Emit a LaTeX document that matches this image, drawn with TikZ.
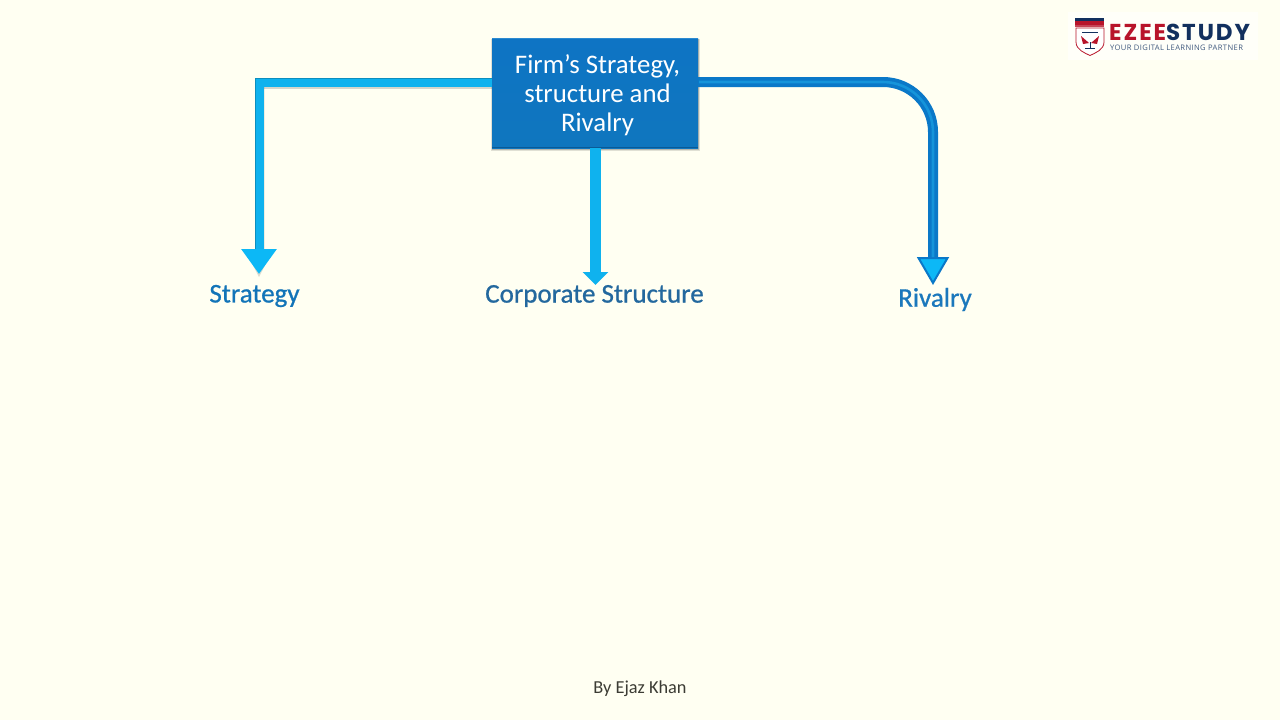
\documentclass[tikz,border=0pt]{standalone}
\usepackage{fontspec}
\setmainfont{Carlito}
\newfontfamily\labelfont[FakeBold=0.8]{Carlito}
\newfontfamily\logofont[LetterSpace=8.5]{Poppins}
\newfontfamily\tagfont[LetterSpace=5]{Open Sans}
\usetikzlibrary{arrows.meta,calc,shadows}
\definecolor{pagebg}{HTML}{FFFFF2}
\definecolor{boxtop}{HTML}{0E74C4}
\definecolor{boxbot}{HTML}{0F76BE}
\definecolor{boxedge}{HTML}{0A5A96}
\definecolor{boxlight}{HTML}{2C8AD0}
\definecolor{skyarrow}{HTML}{0FB2EE}
\definecolor{skyhead}{HTML}{0CB8F6}
\definecolor{deeparrow}{HTML}{0A78C8}
\definecolor{innerarrow}{HTML}{1594DA}
\definecolor{labelone}{HTML}{1274B8}
\definecolor{labeltwo}{HTML}{23689E}
\definecolor{labelthree}{HTML}{1B78BC}
\definecolor{footer}{HTML}{3C3C34}
\definecolor{logored}{HTML}{B8142A}
\definecolor{logonavy}{HTML}{12305E}
\tikzset{
  x=1pt,y=-1pt,
  mainbox/.style={rectangle,minimum width=206pt,minimum height=110pt,inner sep=0pt,outer sep=0pt,
    top color=boxtop,bottom color=boxbot},
  boxtext/.style={inner sep=0pt,text=white,font=\fontsize{26.8}{29}\selectfont,align=center},
  label/.style={inner sep=0pt,font=\labelfont\fontsize{27}{30}\selectfont},
  skyflow/.style={draw=skyarrow,line width=9pt},
  headone/.style={-{Triangle[width=34pt,length=25pt,fill=skyhead,color=skyhead]}},
  headtwo/.style={-{Triangle[width=25pt,length=13pt,fill=skyarrow,color=skyarrow]}},
  headthree/.style={-{Triangle[width=32pt,length=28pt,line width=2pt,fill=skyhead,color=deeparrow]}},
}
\begin{document}
\begin{tikzpicture}
\useasboundingbox (0,0) rectangle (1280,720);
\fill[pagebg] (0,0) rectangle (1280,720);
% logo
\fill[white,opacity=.55] (1068,12) rectangle (1258,60);
\fill[logonavy] (1075,18) rectangle (1104,21);
\fill[logored] (1075,21) rectangle (1104,25);
\fill[logored!80!white] (1075,25) rectangle (1104,27);
\draw[logored,line width=.8pt,fill=white] (1076,28) -- (1104,28) -- (1104,42) .. controls (1104,50) and (1095,53) .. (1090,55.5) .. controls (1085,53) and (1076,50) .. (1076,42) -- cycle;
\fill[logored] (1081,36) -- (1089,43) -- (1083,44) -- cycle (1099,36) -- (1091,43) -- (1097,44) -- cycle;
\draw[logonavy,line width=.8pt] (1082,32) -- (1098,32) (1085,48) -- (1095,48) (1090,42) -- (1090,48);
\node[anchor=west,inner sep=0pt,font=\logofont\fontsize{23}{24}\selectfont\bfseries] (logoname) at (1109,32.5) {\textcolor{logored}{EZEE}\textcolor{logonavy}{STUDY}};
\node[anchor=west,inner sep=0pt,text=logonavy!80,font=\tagfont\fontsize{7.6}{8}\selectfont] (logotag) at (1110,48) {YOUR DIGITAL LEARNING PARTNER};
% ends of the connectors
\coordinate (endone) at (259,274);
\coordinate (endtwo) at (595.5,285);
\coordinate (endthree) at (933,285);
% main box
\fill[black,opacity=.12] (491,39) rectangle (699.5,151);
\fill[black,opacity=.18] (491.5,39) rectangle (698.7,149.5);
\node[mainbox] (firm) at (595,93) {};
\fill[boxlight] (firm.north west) rectangle ([yshift=-1pt]firm.north east);
\fill[boxedge] (firm.south west) rectangle ([yshift=1.4pt]firm.south east);
\node[boxtext] (firmtext) at (597.5,95) {Firm’s Strategy,\\structure and\\Rivalry};
% soft shadows
\fill[black,opacity=.16] (263,86) rectangle (492,89);
\fill[black,opacity=.07] (263,86) rectangle (265,249);
\fill[black,opacity=.14] (246,252) -- (272,252) -- (259,277) -- cycle;
% left connector
\draw[skyflow,headone] ([yshift=11pt]firm.west) -| (endone);
\fill[skyarrow!80!black] (254.5,77.5) rectangle (492,78.7);
\fill[skyarrow!80!black] (254.5,77.5) rectangle (255.7,249);
% centre connector
\draw[line width=11.5pt,draw=skyarrow,headtwo] (firm.south -| endtwo) -- (endtwo);
% right connector
\draw[line width=10pt,draw=deeparrow,headthree,rounded corners=50pt] ([yshift=11pt]firm.east) -| (endthree);
\draw[line width=2.6pt,draw=innerarrow,rounded corners=50pt,shorten <=1pt] ([yshift=11pt]firm.east) -| ([yshift=28pt]endthree);
% labels
\node[label,text=labelone] (strategy) at (254.5,296) {Strategy};
\node[label,text=labeltwo] (corporate) at (594.5,296) {Corporate Structure};
\node[label,text=labelthree] (rivalry) at (935,299.5) {Rivalry};
\node[inner sep=0pt,text=footer,font=\fontsize{18.3}{20}\selectfont] (byline) at (640,689) {By Ejaz Khan};
\end{tikzpicture}
\end{document}
